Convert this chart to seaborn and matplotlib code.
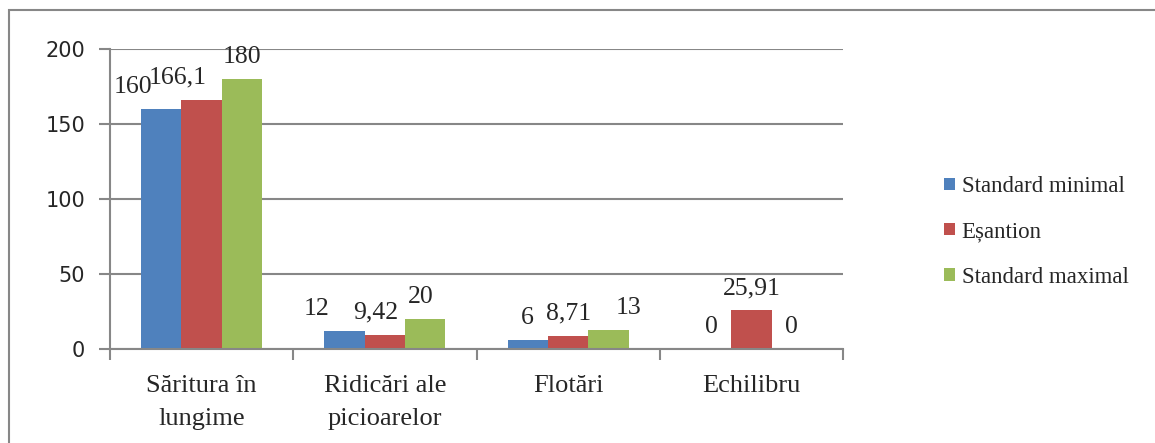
import pandas as pd
import matplotlib.pyplot as plt
import seaborn as sns
from matplotlib.patches import Rectangle
from matplotlib.ticker import FixedLocator

# --- Data ---
categories = ['Săritura în\nlungime', 'Ridicări ale\npicioarelor', 'Flotări', 'Echilibru']
series = ['Standard minimal', 'Eșantion', 'Standard maximal']
standard_minimal = [160, 12, 6, 0]
esantion = [166.1, 9.42, 8.71, 25.91]
standard_maximal = [180, 20, 13, 0]
colors = ['#4F81BD', '#C0504D', '#9BBB59']

# label nudges (pixels) to mimic where Excel put the value labels
label_nudge = [[-28, -24, 0], [-28, -9, -4], [0, 0, 20], [0, 0, 0]]

df = pd.DataFrame({
    'Categorie': categories * 3,
    'Serie': [s for s in series for _ in categories],
    'Valoare': standard_minimal + esantion + standard_maximal,
})

sns.set_style('white')
plt.rcParams['font.family'] = ['DejaVu Sans']
serif = ['Liberation Serif', 'DejaVu Serif']
grid_col = '#878787'

fig = plt.figure(figsize=(11.55, 4.43), dpi=100)
ax = fig.add_axes([110 / 1155, 1 - 349 / 443, 733 / 1155, 300 / 443])

sns.barplot(data=df, x='Categorie', y='Valoare', hue='Serie', order=categories,
            hue_order=series, palette=colors, width=0.66, saturation=1,
            linewidth=0, ax=ax)

ax.set_xlim(-0.5, 3.5)
ax.set_ylim(0, 200)
ax.set_yticks([0, 50, 100, 150, 200])
ax.tick_params(axis='y', labelsize=15, length=8, width=1.5, color=grid_col, pad=10, left=True)
ax.yaxis.grid(True, color=grid_col, linewidth=1.5)
ax.set_axisbelow(True)
ax.set_xlabel('')
ax.set_ylabel('')

# category labels centred, ticks at category boundaries
ax.tick_params(axis='x', which='major', length=0, pad=19)
ax.xaxis.set_minor_locator(FixedLocator([-0.5, 0.5, 1.5, 2.5, 3.5]))
ax.tick_params(axis='x', which='minor', length=8, width=1.5, color=grid_col, bottom=True)
for lab in ax.get_xticklabels():
    lab.set_fontfamily(serif)
    lab.set_fontsize(19)
    lab.set_linespacing(1.65)

for side in ['top', 'right']:
    ax.spines[side].set_visible(False)
for side in ['left', 'bottom']:
    ax.spines[side].set_color(grid_col)
    ax.spines[side].set_linewidth(1.5)

# value labels
for si, cont in enumerate(ax.containers):
    for ci, bar in enumerate(cont):
        v = bar.get_height()
        txt = f'{v:g}'.replace('.', ',')
        ax.annotate(txt, (bar.get_x() + bar.get_width() / 2, v),
                    xytext=(label_nudge[ci][si], 11), textcoords='offset pixels',
                    ha='center', va='bottom', fontsize=18.5, family=serif,
                    annotation_clip=False)

ax.legend(loc='center left', bbox_to_anchor=(933 / 1155, 1 - 232 / 443),
          bbox_transform=fig.transFigure, frameon=False, borderpad=0,
          prop={'family': serif, 'size': 16.5}, handlelength=0.45, handleheight=0.45,
          handletextpad=0.3, labelspacing=1.05)

# outer chart frame
fig.patches.append(Rectangle((9 / 1155, -0.1), 1.2, 1 - 10 / 443 + 0.1,
                             transform=fig.transFigure, fill=False,
                             edgecolor=grid_col, linewidth=1.5))

fig.savefig('out.png', dpi=100)
